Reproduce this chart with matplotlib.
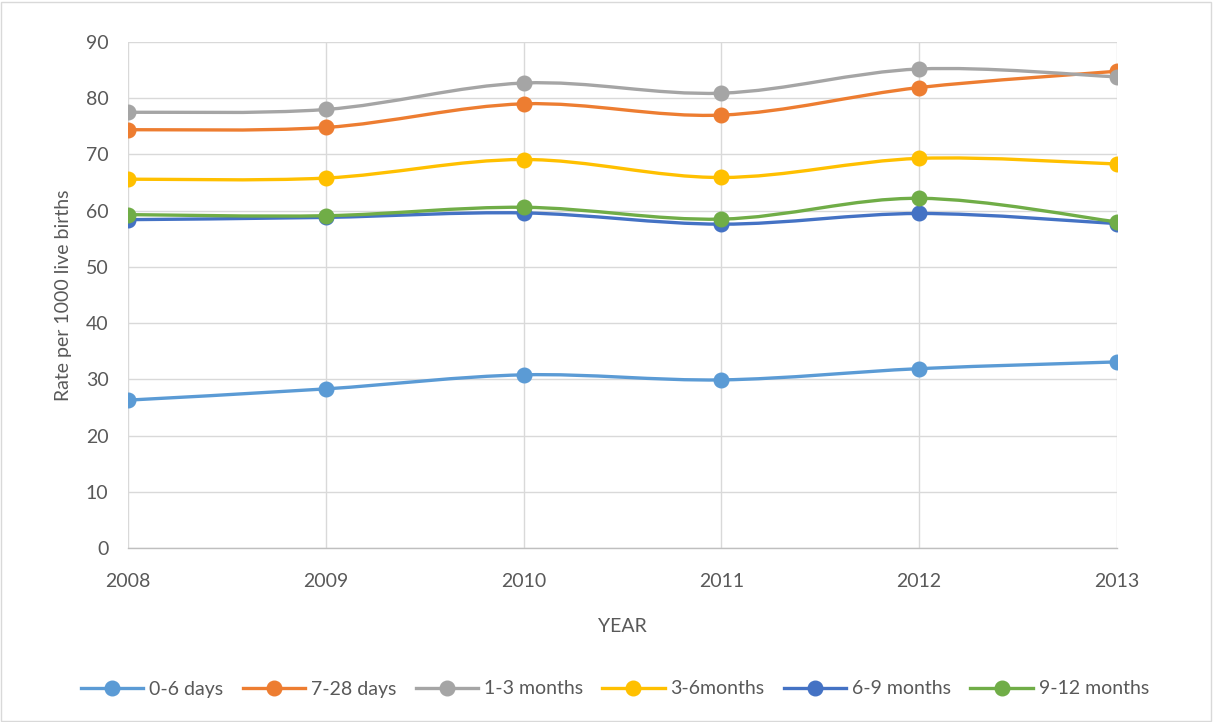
import matplotlib
matplotlib.use("Agg")
import matplotlib.pyplot as plt
import numpy as np
from matplotlib.path import Path
from matplotlib.patches import PathPatch, Rectangle
from matplotlib.lines import Line2D

plt.rcParams['font.family'] = ['Lato', 'DejaVu Sans']

# Taxas por 1000 nascidos vivos
years = [2008, 2009, 2010, 2011, 2012, 2013]
days_0_6 = [26.3, 28.3, 30.8, 29.9, 31.9, 33.1]
days_7_28 = [74.4, 74.8, 79.0, 77.0, 81.9, 84.8]
months_1_3 = [77.5, 78.0, 82.7, 80.9, 85.2, 83.8]
months_3_6 = [65.6, 65.8, 69.1, 65.9, 69.3, 68.3]
months_6_9 = [58.4, 58.8, 59.6, 57.6, 59.5, 57.7]
months_9_12 = [59.3, 59.1, 60.6, 58.5, 62.2, 58.0]

series = [
    ("0-6 days", days_0_6, "#5B9BD5"),
    ("7-28 days", days_7_28, "#ED7D31"),
    ("1-3 months", months_1_3, "#A5A5A5"),
    ("3-6months", months_3_6, "#FFC000"),
    ("6-9 months", months_6_9, "#4472C4"),
    ("9-12 months", months_9_12, "#70AD47"),
]


def smooth_path(x, y):
    # curva suavizada (Catmull-Rom convertida em Bezier cubica)
    pts = np.column_stack([x, y]).astype(float)
    n = len(pts)
    verts = [pts[0]]
    codes = [Path.MOVETO]
    for i in range(n - 1):
        p0 = pts[max(i - 1, 0)]
        p1 = pts[i]
        p2 = pts[i + 1]
        p3 = pts[min(i + 2, n - 1)]
        c1 = p1 + (p2 - p0) / 6.0
        c2 = p2 - (p3 - p1) / 6.0
        verts += [c1, c2, p2]
        codes += [Path.CURVE4] * 3
    return Path(verts, codes)


W, H = 1213, 722
fs = 14
fig = plt.figure(figsize=(W / 100, H / 100), dpi=100)
ax = fig.add_axes([128 / W, 1 - 548 / H, (1117 - 128) / W, (548 - 42) / H])

grid_c = "#D9D9D9"
text_c = "#595959"

for i, (name, vals, color) in enumerate(series):
    ax.add_patch(PathPatch(smooth_path(years, vals), facecolor="none", edgecolor=color,
                           lw=2.4, capstyle="round", joinstyle="round", zorder=3 + 2 * i))
    ax.plot(years, vals, linestyle="none", marker="o", markersize=10.5,
            color=color, zorder=4 + 2 * i)

ax.set_xlim(2008, 2013)
ax.set_ylim(0, 90)
ax.set_xticks(years)
ax.set_yticks(range(0, 91, 10))
ax.grid(True, color=grid_c, lw=1.0)
ax.set_axisbelow(True)
for s in ["top", "right", "left"]:
    ax.spines[s].set_visible(False)
ax.spines["bottom"].set_color("#BFBFBF")
ax.spines["bottom"].set_linewidth(1.0)
ax.tick_params(length=0, labelsize=fs, labelcolor=text_c)
ax.tick_params(axis="x", pad=18)
ax.tick_params(axis="y", pad=14)

ax.set_xlabel("YEAR", fontsize=fs, color=text_c, labelpad=20)
ax.set_ylabel("Rate per 1000 live births", fontsize=fs, color=text_c, labelpad=10)

handles = [Line2D([], [], color=c, lw=2.4, marker="o", markersize=10.5) for _, _, c in series]
fig.legend(handles, [s[0] for s in series], loc="center", bbox_to_anchor=(0.507, 1 - 689 / H),
           ncol=6, frameon=False, fontsize=fs, labelcolor=text_c, handlelength=3.2,
           columnspacing=1.0, handletextpad=0.3)

# borda da area do grafico
fig.add_artist(Rectangle((1 / W, 1 / H), (W - 3) / W, (H - 3) / H, transform=fig.transFigure,
                         fill=False, edgecolor="#D9D9D9", lw=1.0))

fig.savefig("out.png", dpi=100)
